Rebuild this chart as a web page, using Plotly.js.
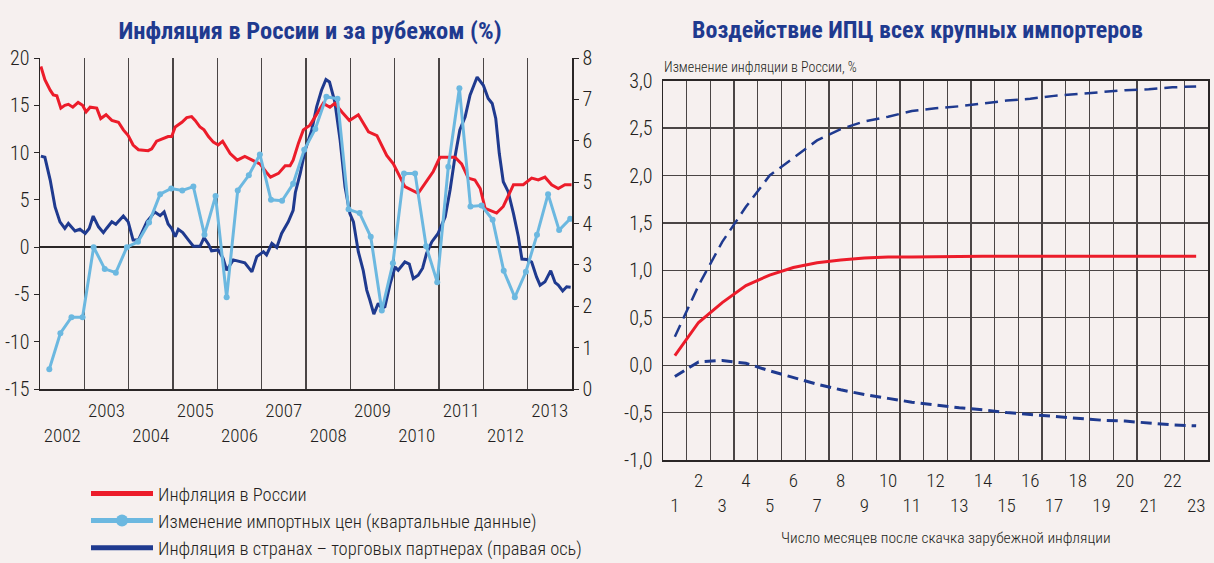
<!DOCTYPE html>
<html><head><meta charset="utf-8">
<script src="https://cdn.plot.ly/plotly-3.0.1.min.js"></script>
<style>html,body{margin:0;padding:0;background:#f6f0ef}#chart{width:1214px;height:563px}</style>
</head><body><div id="chart"></div>
<script>
// ---------- Left chart data ----------
const yearLabels = ['2002','2003','2004','2005','2006','2007','2008','2009','2010','2011','2012','2013'];

const ruYears = [2002.02,2002.11,2002.23,2002.30,2002.38,2002.47,2002.56,2002.64,2002.74,2002.86,2002.96,2003.04,2003.13,2003.28,2003.37,2003.49,2003.62,2003.77,2003.88,2003.99,2004.10,2004.22,2004.44,2004.52,2004.63,2004.78,2004.89,2004.97,2005.05,2005.20,2005.31,2005.42,2005.50,2005.61,2005.70,2005.80,2005.91,2006.02,2006.12,2006.29,2006.45,2006.62,2006.81,2006.96,2007.11,2007.20,2007.38,2007.53,2007.64,2007.71,2007.83,2007.94,2008.09,2008.24,2008.39,2008.54,2008.65,2008.81,2008.98,2009.18,2009.41,2009.60,2009.82,2009.97,2010.23,2010.53,2010.68,2010.87,2011.02,2011.36,2011.51,2011.66,2011.81,2011.93,2012.04,2012.30,2012.45,2012.68,2012.90,2013.09,2013.24,2013.39,2013.54,2013.69,2013.84,2013.99];
const ruInflation = [19.1,17.7,16.6,16.1,16.0,14.7,15.0,15.1,14.8,15.3,15.0,14.3,14.8,14.7,13.6,14.0,13.4,13.2,12.4,11.8,10.8,10.3,10.2,10.4,11.2,11.5,11.7,11.7,12.7,13.2,13.7,13.8,13.4,12.7,12.4,11.7,11.1,10.8,11.2,9.9,9.2,9.6,9.2,8.8,7.9,7.4,7.8,8.6,8.6,9.2,11.0,12.4,12.9,14.0,15.2,14.8,15.2,14.3,13.4,14.0,12.2,11.8,9.7,8.8,6.4,5.7,6.7,8.0,9.5,9.5,8.8,7.3,7.1,6.2,4.1,3.6,4.3,6.6,6.6,7.3,7.1,7.4,6.6,6.2,6.6,6.6];

const importChange = [-12.9,-9.1,-7.4,-7.4,0.0,-2.3,-2.7,0.0,0.56,2.6,5.6,6.2,6.0,6.4,1.3,5.4,-5.3,6.0,7.6,9.8,5.0,4.9,6.7,10.3,12.5,15.9,15.7,4.0,3.6,1.1,-6.7,-1.7,7.8,7.8,0.1,-3.7,8.5,16.8,4.3,4.4,2.9,-2.5,-5.3,-2.6,1.3,5.6,1.8,3.0];
const importFirstQuarter = 2002.21;   // end of Q1 2002, quarterly step

const partnerYears = [2002.02,2002.11,2002.23,2002.34,2002.45,2002.56,2002.64,2002.79,2002.90,2003.02,2003.11,2003.20,2003.32,2003.43,2003.50,2003.62,2003.71,2003.88,2003.99,2004.10,2004.22,2004.41,2004.59,2004.71,2004.80,2004.89,2004.97,2005.05,2005.12,2005.22,2005.35,2005.46,2005.61,2005.70,2005.80,2005.87,2006.02,2006.13,2006.21,2006.36,2006.62,2006.78,2006.89,2007.04,2007.11,2007.23,2007.34,2007.45,2007.60,2007.71,2007.76,2007.87,2007.98,2008.13,2008.24,2008.35,2008.45,2008.53,2008.65,2008.77,2008.88,2008.99,2009.07,2009.18,2009.29,2009.37,2009.44,2009.53,2009.63,2009.71,2009.78,2009.90,2010.01,2010.08,2010.23,2010.33,2010.42,2010.53,2010.63,2010.72,2010.84,2010.98,2011.14,2011.25,2011.36,2011.47,2011.59,2011.70,2011.86,2012.00,2012.11,2012.20,2012.28,2012.36,2012.45,2012.56,2012.68,2012.79,2012.87,2012.98,2013.09,2013.20,2013.28,2013.39,2013.52,2013.62,2013.69,2013.79,2013.88,2013.97];
const partnerInflation = [5.63,5.60,5.05,4.40,4.04,3.88,4.00,3.82,3.86,3.76,3.88,4.18,3.92,3.78,3.88,4.04,3.98,4.18,4.04,3.60,3.60,4.04,4.28,4.19,4.28,3.99,3.88,3.68,3.86,3.78,3.60,3.45,3.45,3.66,3.50,3.34,3.36,3.16,2.87,3.12,3.05,2.83,3.20,3.32,3.24,3.52,3.42,3.76,4.04,4.32,4.75,5.21,5.77,6.26,6.82,7.22,7.48,7.42,6.94,6.01,4.89,4.24,4.04,3.32,2.87,2.39,2.15,1.81,2.07,1.95,1.99,2.55,2.95,2.87,3.07,3.02,2.67,2.75,2.92,3.28,3.56,3.76,4.16,4.81,5.61,6.26,6.58,7.10,7.54,7.34,7.02,6.90,6.54,5.69,5.01,4.77,4.24,3.68,3.14,3.13,3.07,2.71,2.51,2.59,2.86,2.57,2.51,2.37,2.47,2.46];

const leftTickVals = [-15,-10,-5,0,5,10,15,20];
const leftTickText = ['-15','-10','-5','0','5','10','15','20'];
const rightTickVals = [0,1,2,3,4,5,6,7,8];
const rightTickText = ['0','1','2','3','4','5','6','7','8'];

// ---------- Right chart data ----------
const months = [1,2,3,4,5,6,7,8,9,10,11,12,13,14,15,16,17,18,19,20,21,22,23];
const cpiEffect = [0.10,0.45,0.66,0.84,0.95,1.03,1.08,1.11,1.13,1.14,1.14,1.145,1.15,1.15,1.15,1.15,1.15,1.15,1.15,1.15,1.15,1.15,1.15];
const cpiUpper  = [0.30,0.84,1.30,1.67,2.00,2.19,2.37,2.49,2.57,2.62,2.68,2.71,2.73,2.76,2.79,2.81,2.84,2.86,2.88,2.90,2.91,2.93,2.94];
const cpiLower  = [-0.12,0.035,0.05,0.02,-0.06,-0.13,-0.20,-0.26,-0.31,-0.35,-0.39,-0.42,-0.45,-0.47,-0.50,-0.52,-0.54,-0.56,-0.58,-0.59,-0.61,-0.63,-0.64];
const effTickVals = [-1,-0.5,0,0.5,1,1.5,2,2.5,3];
const effTickText = ['-1,0','-0,5','0,0','0,5','1,0','1,5','2,0','2,5','3,0'];

// ---------- styling ----------
const FONT = "'Roboto Condensed','Open Sans','DejaVu Sans Condensed',sans-serif";
const LIGHT = 300;
const BG = '#f6f0ef';
const RED = '#ec1c2a';
const LBLUE = '#6cb8e0';
const NAVY = '#1f3a8f';
const AX = '#2a2626';
const GRID = '#4a4545';
const TXT = '#231f20';
const W = 1214, H = 563;

const importYears = importChange.map((_, i) => importFirstQuarter + 0.25 * i);
const yearMid = yearLabels.map(y => +y + 0.5);
const yearBounds = yearLabels.slice(1).map(y => +y);
const yearText = yearLabels.map(y => (+y % 2 === 1) ? y : '\u00a0<br>' + y);
const monthText = months.map(m => (m % 2 === 0) ? String(m) : '\u00a0<br>' + m);
const monthBounds = months.slice(0, -1).map(m => m + 0.5);

const tf = (size) => ({family: FONT, size: size, color: TXT, weight: LIGHT});

// Left chart: 'y' = right-hand scale (trade partners), 'y2' = left-hand scale overlaid on top
const traces = [
  {x: ruYears, y: ruInflation, xaxis: 'x', yaxis: 'y2', mode: 'lines', name: 'Инфляция в России',
   legendrank: 1, line: {color: RED, width: 3}},
  {x: importYears, y: importChange, xaxis: 'x', yaxis: 'y2', mode: 'lines+markers',
   name: 'Изменение импортных цен (квартальные данные)', legendrank: 2,
   line: {color: LBLUE, width: 3}, marker: {color: LBLUE, size: 6}},
  {x: partnerYears, y: partnerInflation, xaxis: 'x', yaxis: 'y', mode: 'lines',
   name: 'Инфляция в странах – торговых партнерах (правая ось)', legendrank: 3,
   line: {color: NAVY, width: 3}},
  {x: months, y: cpiUpper, xaxis: 'x2', yaxis: 'y3', mode: 'lines', showlegend: false, name: 'Верхняя граница',
   line: {color: NAVY, width: 2.5, dash: '13px,7px'}},
  {x: months, y: cpiEffect, xaxis: 'x2', yaxis: 'y3', mode: 'lines', showlegend: false, name: 'Воздействие ИПЦ',
   line: {color: RED, width: 3}},
  {x: months, y: cpiLower, xaxis: 'x2', yaxis: 'y3', mode: 'lines', showlegend: false, name: 'Нижняя граница',
   line: {color: NAVY, width: 3, dash: '11px,6px'}}
];

const layout = {
  width: W, height: H,
  paper_bgcolor: BG, plot_bgcolor: BG,
  margin: {l: 0, r: 0, t: 0, b: 0, autoexpand: false},
  font: tf(19),
  title: {text: 'Инфляция в России и за рубежом (%)', xref: 'paper', yref: 'paper',
          x: 310 / W, xanchor: 'center', y: 1 - 30 / H, yanchor: 'middle',
          font: {family: FONT, size: 24.5, color: NAVY, weight: 'bold'}},
  xaxis: {domain: [40 / W, 572 / W], range: [2002, 2014], anchor: 'y',
          tickmode: 'array', tickvals: yearMid, ticktext: yearText, tickangle: 0,
          ticks: '', ticklabelstandoff: 4, tickfont: tf(19),
          showgrid: false, zeroline: false, showline: true, linecolor: AX, linewidth: 1.5,
          minor: {tickmode: 'array', tickvals: yearBounds, showgrid: true, gridcolor: GRID, gridwidth: 1.3, ticks: ''},
          automargin: false},
  yaxis: {domain: [1 - 389 / H, 1 - 58 / H], side: 'right', anchor: 'x', range: [0, 8],
          tickmode: 'array', tickvals: rightTickVals, ticktext: rightTickText,
          ticks: 'outside', ticklen: 5, tickcolor: AX, tickfont: tf(20),
          showgrid: false, zeroline: false, showline: true, linecolor: AX, linewidth: 1.5, automargin: false},
  yaxis2: {overlaying: 'y', side: 'left', anchor: 'x', range: [-15, 20],
           tickmode: 'array', tickvals: leftTickVals, ticktext: leftTickText,
           ticks: 'outside', ticklen: 5, tickcolor: AX, tickfont: tf(20),
           showgrid: false, zeroline: true, zerolinecolor: AX, zerolinewidth: 1.5,
           showline: true, linecolor: AX, linewidth: 1.5, automargin: false},
  xaxis2: {domain: [663 / W, 1208 / W], range: [0.5, 23.5], anchor: 'y3',
           tickmode: 'array', tickvals: months, ticktext: monthText, tickangle: 0,
           ticks: '', ticklabelstandoff: 3, tickfont: tf(19),
           showgrid: false, zeroline: false, showline: true, mirror: true, linecolor: AX, linewidth: 1.5,
           minor: {tickmode: 'array', tickvals: monthBounds, showgrid: true, gridcolor: GRID, gridwidth: 1.3, ticks: ''},
           automargin: false},
  yaxis3: {domain: [1 - 460 / H, 1 - 80.7 / H], range: [-1, 3], anchor: 'x2',
           tickmode: 'array', tickvals: effTickVals, ticktext: effTickText,
           ticks: '', ticklabelstandoff: 5, tickfont: tf(20),
           showgrid: true, gridcolor: GRID, gridwidth: 1.3, zeroline: false,
           showline: true, mirror: true, linecolor: AX, linewidth: 1.5, automargin: false},
  legend: {x: 86 / W, y: 1 - 475 / H, xanchor: 'left', yanchor: 'top', traceorder: 'normal',
           bgcolor: 'rgba(0,0,0,0)', font: tf(18.5), itemwidth: 62, itemsizing: 'constant'},
  annotations: [
    {text: 'Воздействие ИПЦ всех крупных импортеров', xref: 'paper', yref: 'paper',
     x: 918 / W, y: 1 - 30 / H, xanchor: 'center', yanchor: 'middle', showarrow: false,
     font: {family: FONT, size: 24, color: NAVY, weight: 'bold'}},
    {text: 'Изменение инфляции в России, %', xref: 'paper', yref: 'paper',
     x: 662 / W, y: 1 - 67 / H, xanchor: 'left', yanchor: 'middle', showarrow: false,
     font: tf(14)},
    {text: 'Число месяцев после скачка зарубежной инфляции', xref: 'paper', yref: 'paper',
     x: 946 / W, y: 1 - 538 / H, xanchor: 'center', yanchor: 'middle', showarrow: false,
     font: tf(15.5)}
  ]
};

Plotly.newPlot('chart', traces, layout, {displayModeBar: false, staticPlot: true});
</script></body></html>
